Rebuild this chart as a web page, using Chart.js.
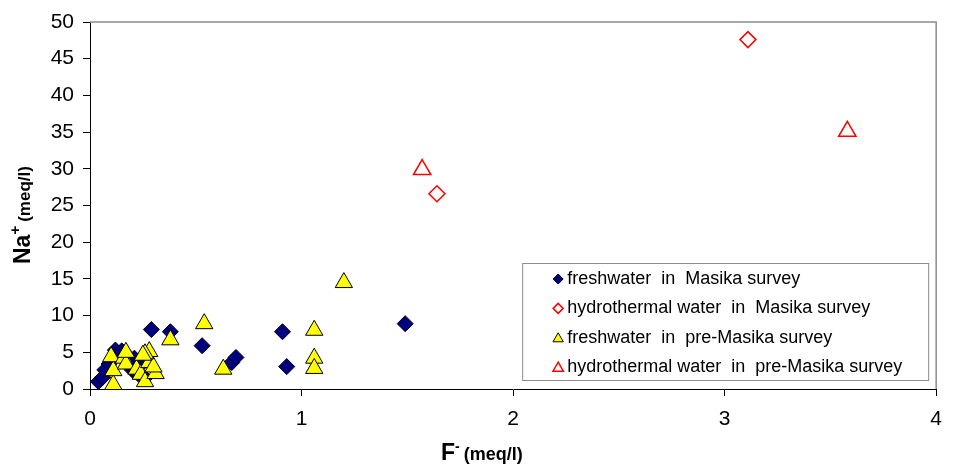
<!DOCTYPE html>
<html lang="en">
<head>
    <meta charset="UTF-8">
    <title>Na+ vs F-</title>
    <script src="https://cdn.jsdelivr.net/npm/chart.js"></script>
    <style>
        body {
            margin: 0;
            background-color: #ffffff;
        }
        .chart-box {
            position: relative;
            width: 953px;
            height: 473px;
        }
    </style>
</head>
<body>

<div class="chart-box">
    <canvas id="naChart"></canvas>
</div>

<script>
    // F- (meq/l) on x, Na+ (meq/l) on y
    const freshMasikaF  = [0.29, 0.38, 0.53, 0.67, 0.69, 0.91, 0.93, 1.49, 0.04, 0.06, 0.07, 0.09, 0.11, 0.12, 0.15, 0.21, 0.20, 0.23, 0.26, 0.24, 0.17];
    const freshMasikaNa = [8.1,  7.8,  5.9,  3.6,  4.3,  7.8,  3.05, 8.9,  1.0,  1.6,  2.6,  3.4,  4.2,  5.3,  5.2,  4.2,  2.6,  2.0,  1.5,  3.3,  4.8];

    const hydroMasikaF  = [3.11, 1.64];
    const hydroMasikaNa = [47.6, 26.6];

    const freshPreF  = [0.54, 0.63, 1.06, 1.06, 1.06, 1.20, 0.38, 0.11, 0.11, 0.10, 0.16, 0.17, 0.17, 0.22, 0.24, 0.26, 0.28, 0.28, 0.31, 0.30, 0.26, 0.25];
    const freshPreNa = [8.9,  2.7,  8.0,  4.2,  2.8,  14.5, 6.7,  0.6,  2.5,  4.4,  4.2,  3.4,  5.0,  2.7,  2.0,  1.0,  3.6,  5.1,  2.1,  3.0,  4.8,  4.6];

    const hydroPreF  = [1.57, 3.58];
    const hydroPreNa = [29.9, 35.1];

    const seriesLabels = [
        'freshwater  in  Masika survey',
        'hydrothermal water  in  Masika survey',
        'freshwater  in  pre-Masika survey',
        'hydrothermal water  in  pre-Masika survey'
    ];

    const xTicks = [0, 1, 2, 3, 4];
    const yTicks = [0, 5, 10, 15, 20, 25, 30, 35, 40, 45, 50];

    const FONT = "'Liberation Sans', Arial, sans-serif";

    function toPoints(xs, ys) {
        return xs.map((x, i) => ({x: x, y: ys[i]}));
    }

    // plot frame: grey top/right edges like the spreadsheet plot area
    const framePlugin = {
        id: 'frame',
        beforeDatasetsDraw(chart) {
            const a = chart.chartArea;
            const ctx = chart.ctx;
            ctx.save();
            ctx.strokeStyle = '#8c8c8c';
            ctx.lineWidth = 1.5;
            ctx.beginPath();
            ctx.moveTo(a.left, a.top);
            ctx.lineTo(a.right, a.top);
            ctx.lineTo(a.right, a.bottom);
            ctx.stroke();
            ctx.restore();
        }
    };

    function markerPath(ctx, style, x, y, r) {
        ctx.beginPath();
        if (style === 'rectRot') {
            ctx.moveTo(x - r, y);
            ctx.lineTo(x, y - r);
            ctx.lineTo(x + r, y);
            ctx.lineTo(x, y + r);
        } else {
            ctx.moveTo(x, y - r);
            ctx.lineTo(x + r * 0.866, y + r / 2);
            ctx.lineTo(x - r * 0.866, y + r / 2);
        }
        ctx.closePath();
    }

    // boxed legend inside the lower right of the plot
    const boxLegendPlugin = {
        id: 'boxLegend',
        afterDraw(chart) {
            const a = chart.chartArea;
            const ctx = chart.ctx;
            const right = a.right - 8;
            const bottom = a.bottom - 9;
            const left = right - 406;
            const top = bottom - 117;
            ctx.save();
            ctx.fillStyle = '#ffffff';
            ctx.fillRect(left, top, right - left, bottom - top);
            ctx.strokeStyle = '#8c8c8c';
            ctx.lineWidth = 1;
            ctx.strokeRect(left + 0.5, top + 0.5, right - left, bottom - top);

            ctx.font = '18px ' + FONT;
            ctx.textBaseline = 'middle';
            ctx.textAlign = 'left';
            chart.data.datasets.forEach((ds, i) => {
                const y = top + 16 + i * 29.4;
                const mx = left + 36;
                const r = ds.pointStyle === 'rectRot' ? 5 : 6;
                markerPath(ctx, ds.pointStyle, mx, ds.pointStyle === 'rectRot' ? y : y + 1, r);
                if (ds.pointBackgroundColor !== 'transparent') {
                    ctx.fillStyle = ds.pointBackgroundColor;
                    ctx.fill();
                }
                ctx.strokeStyle = ds.pointBorderColor;
                ctx.lineWidth = ds.pointBorderWidth;
                ctx.stroke();
                ctx.fillStyle = '#000000';
                ctx.fillText(ds.label, left + 45, y);
            });
            ctx.restore();
        }
    };

    // axis titles with superscript ion charges
    const axisTitlePlugin = {
        id: 'axisTitles',
        afterDraw(chart) {
            const ctx = chart.ctx;
            ctx.save();
            ctx.fillStyle = '#000000';
            ctx.textBaseline = 'alphabetic';
            ctx.textAlign = 'left';

            // x title: F- (meq/l)
            let x = 441;
            const base = 460;
            ctx.font = 'bold 23px ' + FONT;
            ctx.fillText('F', x, base);
            x += ctx.measureText('F').width;
            ctx.font = 'bold 14px ' + FONT;
            ctx.fillText('-', x, base - 9);
            x += ctx.measureText('-').width + 4;
            ctx.font = 'bold 18px ' + FONT;
            ctx.fillText('(meq/l)', x, base);

            // y title: Na+ (meq/l), rotated
            ctx.translate(30, 264);
            ctx.rotate(-Math.PI / 2);
            let t = 0;
            ctx.font = 'bold 23px ' + FONT;
            ctx.fillText('Na', t, 0);
            t += ctx.measureText('Na').width;
            ctx.font = 'bold 15px ' + FONT;
            ctx.fillText('+', t, -10);
            t += ctx.measureText('+').width + 4;
            ctx.font = 'bold 17px ' + FONT;
            ctx.fillText('(meq/l)', t, 0);
            ctx.restore();
        }
    };

    const ctx = document.getElementById('naChart').getContext('2d');

    new Chart(ctx, {
        type: 'scatter',
        data: {
            datasets: [{
                label: seriesLabels[0],
                data: toPoints(freshMasikaF, freshMasikaNa),
                pointStyle: 'rectRot',
                pointRadius: 8,
                pointBackgroundColor: '#000080',
                pointBorderColor: '#000000',
                pointBorderWidth: 1,
                order: 4
            }, {
                label: seriesLabels[1],
                data: toPoints(hydroMasikaF, hydroMasikaNa),
                pointStyle: 'rectRot',
                pointRadius: 8,
                pointBackgroundColor: 'transparent',
                pointBorderColor: '#ff0000',
                pointBorderWidth: 1.5,
                order: 3
            }, {
                label: seriesLabels[2],
                data: toPoints(freshPreF, freshPreNa),
                pointStyle: 'triangle',
                pointRadius: 10,
                pointBackgroundColor: '#ffff00',
                pointBorderColor: '#000000',
                pointBorderWidth: 1,
                order: 2
            }, {
                label: seriesLabels[3],
                data: toPoints(hydroPreF, hydroPreNa),
                pointStyle: 'triangle',
                pointRadius: 10,
                pointBackgroundColor: 'transparent',
                pointBorderColor: '#ff0000',
                pointBorderWidth: 1.5,
                order: 1
            }]
        },
        options: {
            responsive: true,
            maintainAspectRatio: false,
            animation: false,
            events: [],
            layout: {
                padding: {top: 22, right: 16, bottom: 0, left: 0}
            },
            plugins: {
                legend: {display: false},
                tooltip: {enabled: false}
            },
            scales: {
                x: {
                    type: 'linear',
                    min: xTicks[0],
                    max: xTicks[xTicks.length - 1],
                    afterBuildTicks(scale) {
                        scale.ticks = xTicks.map(v => ({value: v}));
                    },
                    afterFit(scale) {
                        scale.height = 84;
                    },
                    border: {color: '#000000', width: 1},
                    grid: {
                        drawOnChartArea: false,
                        drawTicks: true,
                        tickLength: 7,
                        color: '#000000'
                    },
                    ticks: {
                        color: '#000000',
                        padding: 11,
                        font: {family: FONT, size: 21}
                    }
                },
                y: {
                    type: 'linear',
                    min: yTicks[0],
                    max: yTicks[yTicks.length - 1],
                    afterBuildTicks(scale) {
                        scale.ticks = yTicks.map(v => ({value: v}));
                    },
                    afterFit(scale) {
                        scale.width = 90;
                    },
                    border: {color: '#000000', width: 1},
                    grid: {
                        drawOnChartArea: false,
                        drawTicks: true,
                        tickLength: 7,
                        color: '#000000'
                    },
                    ticks: {
                        color: '#000000',
                        padding: 9,
                        font: {family: FONT, size: 21}
                    }
                }
            }
        },
        plugins: [framePlugin, boxLegendPlugin, axisTitlePlugin]
    });
</script>

</body>
</html>
